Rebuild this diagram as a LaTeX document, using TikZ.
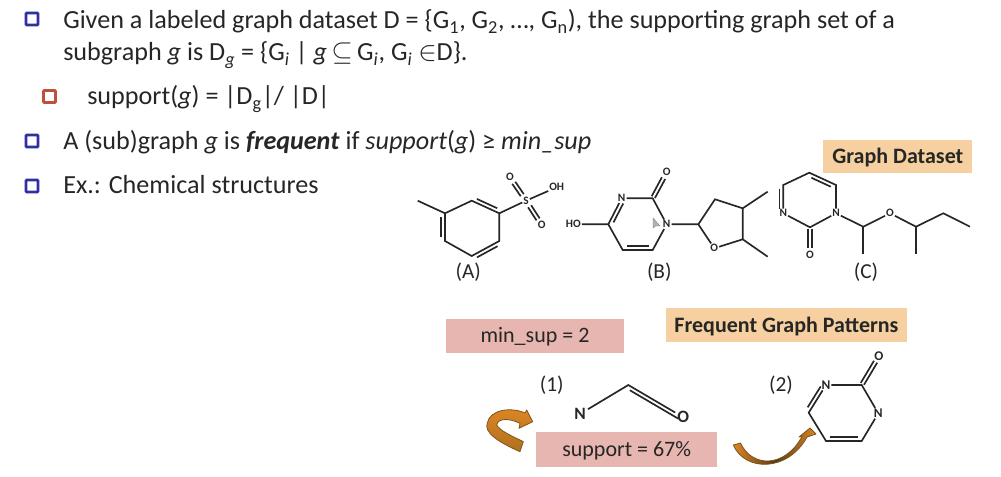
\documentclass[tikz,border=0pt]{standalone}
\usepackage{fontspec}
\setmainfont{Carlito}
\usetikzlibrary{calc}
\definecolor{bulletblue}{RGB}{48,48,160}
\definecolor{bulletred}{RGB}{190,80,60}
\definecolor{boxorange}{RGB}{246,208,160}
\definecolor{boxpink}{RGB}{232,182,176}
\definecolor{arroworange}{RGB}{222,134,36}
\definecolor{arrowdark}{RGB}{176,112,30}
\definecolor{arrowbrown}{RGB}{125,84,30}
\definecolor{inktext}{RGB}{38,38,38}
\tikzset{
  bond/.style={line width=1.25pt,color=inktext},
  atom/.style={inner sep=0.6pt,font=\fontsize{8.5}{9}\selectfont\bfseries,text=inktext},
  bigatom/.style={inner sep=1.5pt,font=\fontsize{13}{14}\selectfont\bfseries,text=inktext},
  bodytext/.style={anchor=base west,inner sep=0pt,font=\fontsize{19.6}{22}\selectfont,text=inktext},
  caption/.style={inner sep=0pt,font=\fontsize{16}{18}\selectfont,text=inktext},
  tagbox/.style={inner sep=0pt,text height=14pt,text depth=3.8pt,font=\fontsize{16.5}{18}\selectfont,text=inktext},
  bulletbox/.style={draw=#1,line width=2pt,fill=white,minimum size=9pt,inner sep=0pt,rounded corners=0.6pt},
  blockarrow/.style={draw=arrowbrown,line width=0.6pt,line join=round}
}
% inner line of a double bond, on side #3 (+1 or -1) of the line from #1 to #2
\newcommand{\ringline}[3]{
  \draw [bond,shorten >=3pt,shorten <=3pt] ($(#1)!#3*2.8pt!90:(#2)$) -- ($(#2)!#3*2.8pt!-90:(#1)$);
}
% two parallel lines of a bond towards an oxygen #2, start cut back by #3
\newcommand{\oxoline}[3]{
  \draw [bond,shorten >=5pt,shorten <=#3] ($(#1)!1.4pt!90:(#2)$) -- ($(#2)!1.4pt!-90:(#1)$);
  \draw [bond,shorten >=5pt,shorten <=#3] ($(#1)!-1.4pt!90:(#2)$) -- ($(#2)!-1.4pt!-90:(#1)$);
}
\begin{document}
\begin{tikzpicture}[x=0.75pt,y=0.75pt,yscale=-1,xscale=1]
\path [use as bounding box] (0,0) rectangle (1001,477);

% Bullets
\node (bulA) [bulletbox=bulletblue] at (32,19) {};
\node (bulB) [bulletbox=bulletred] at (49.5,96.5) {};
\node (bulC) [bulletbox=bulletblue] at (32,141) {};
\node (bulD) [bulletbox=bulletblue] at (32,186) {};

% Text Node
\node (lineA) [bodytext] at (63,29) {Given a labeled graph dataset D = \{G\textsubscript{1}, G\textsubscript{2}, \dots, G\textsubscript{n}), the supporting graph set of a};
% Text Node
\node (lineB) [bodytext] at (63,61) {subgraph \textit{g} is D\textsubscript{\textit{g}} = \{G\textsubscript{\textit{i}} | \textit{g}\,$\subseteq$\,G\textsubscript{\textit{i}}, G\textsubscript{\textit{i}} $\in$D\}.};
% Text Node
\node (lineC) [bodytext] at (87,105) {support(\textit{g}) = |D\textsubscript{g}|/ |D|};
% Text Node
\node (lineD) [bodytext] at (63,150) {A (sub)graph \textit{g} is \textbf{\textit{frequent}} if \textit{support}(\textit{g}) ≥ \textit{min\_sup}};
% Text Node
\node (lineE) [bodytext] at (63,194) {Ex.: Chemical structures};

% Tag boxes
\node (tagData) [tagbox,fill=boxorange,minimum width=111.8pt,minimum height=25pt] at (897.8,156.7) {\textbf{Graph Dataset}};
\node (tagFreq) [tagbox,fill=boxorange,minimum width=180.8pt,minimum height=25.5pt] at (786.5,325.3) {\textbf{Frequent Graph Patterns}};
\node (tagMin) [tagbox,fill=boxpink,minimum width=133.7pt,minimum height=25.7pt] at (535,336.2) {min\_sup = 2};
\node (tagSup) [tagbox,fill=boxpink,minimum width=136pt,minimum height=25.8pt] at (626.7,449.5) {support = 67\%};

% Text Node
\node (capA) [caption] at (468.3,272) {(A)};
\node (capB) [caption] at (659.3,272) {(B)};
\node (capC) [caption] at (866,272) {(C)};
\node (capOne) [caption] at (551.7,385) {(1)};
\node (capTwo) [caption] at (781,385) {(2)};

%Molecule A
\coordinate (aMe) at (417.7,200.7);
\coordinate (a1) at (445,213.3);
\coordinate (a2) at (471.7,200.7);
\coordinate (a3) at (499.3,213.3);
\coordinate (a4) at (499.3,241);
\coordinate (a5) at (471.7,256);
\coordinate (a6) at (445,241);
\node (aS) [atom] at (526,200.7) {S};
\node (aOa) [atom] at (510,177.3) {O};
\node (aOb) [atom] at (541.7,225) {O};
\node (aOH) [atom] at (556.7,187.3) {OH};
\draw [bond] (aMe) -- (a1);
\draw [bond] (a1) -- (a2) -- (a3) -- (a4) -- (a5) -- (a6) -- cycle;
\ringline{a2}{a3}{-1}
\ringline{a4}{a5}{-1}
\ringline{a6}{a1}{-1}
\draw [bond] (a3) -- (aS);
\draw [bond] (aS) -- (aOH);
\oxoline{aS}{aOa}{5pt}
\oxoline{aS}{aOb}{5pt}

%Molecule B
\node (bHO) [atom] at (573.3,224.3) {HO};
\coordinate (b1) at (608.3,224.3);
\node (bNa) [atom] at (621.7,198.3) {N};
\coordinate (b2) at (652.7,198.3);
\node (bO) [atom] at (666.7,172.3) {O};
\node (bNb) [atom] at (666.7,224.3) {N};
\coordinate (b3) at (652.7,250);
\coordinate (b4) at (622.7,250);
\coordinate (b5) at (698.3,224.3);
\coordinate (b6) at (715,199.3);
\coordinate (b7) at (742.7,208.3);
\coordinate (b8) at (742.7,239.3);
\node (bOr) [atom] at (714.3,248.3) {O};
\coordinate (bMa) at (767.7,191.7);
\coordinate (bMb) at (767.7,256.7);
\draw [bond] (bHO) -- (b1) -- (bNa) -- (b2) -- (bNb) -- (b3) -- (b4) -- (b1);
\ringline{b1}{bNa}{1}
\ringline{b3}{b4}{1}
\oxoline{b2}{bO}{1pt}
\draw [bond] (bNb) -- (b5) -- (b6) -- (b7) -- (b8) -- (bOr) -- (b5);
\draw [bond] (b7) -- (bMa);
\draw [bond] (b8) -- (bMb);
%Cursor
\fill [black!30,draw=black!50,line width=0.3pt] (653,218) -- (653,228) -- (655.5,226) -- (660,226) -- cycle;

%Molecule C
\coordinate (c1) at (783.3,185);
\coordinate (c2) at (809.3,172.7);
\coordinate (c3) at (836,185);
\node (cNa) [atom] at (836,213.3) {N};
\coordinate (c4) at (810,227.3);
\node (cNb) [atom] at (783.3,213.3) {N};
\node (cOa) [atom] at (810,255) {O};
\coordinate (c5) at (863.3,226.7);
\coordinate (c6) at (863.3,254);
\node (cOb) [atom] at (890,213.3) {O};
\coordinate (c7) at (916,226.7);
\coordinate (c8) at (916,254);
\coordinate (c9) at (943.3,213.3);
\coordinate (c10) at (970,226.7);
\draw [bond] (cNb) -- (c1) -- (c2) -- (c3) -- (cNa) -- (c4) -- (cNb);
\ringline{c1}{cNb}{1}
\ringline{c2}{c3}{1}
\oxoline{c4}{cOa}{1pt}
\draw [bond] (cNa) -- (c5) -- (cOb) -- (c7) -- (c9) -- (c10);
\draw [bond] (c5) -- (c6);
\draw [bond] (c7) -- (c8);

%Pattern 1
\node (pN) [bigatom] at (580,414) {N};
\coordinate (p1) at (628.3,385);
\node (pO) [bigatom] at (683.3,417.3) {O};
\draw [bond] (pN) -- (p1) -- (pO);
\ringline{p1}{pO}{1}

%Pattern 2
\node (qNa) [atom,font=\fontsize{10}{11}\selectfont\bfseries] at (826,385) {N};
\coordinate (q1) at (861.7,385);
\node (qO) [atom,font=\fontsize{10}{11}\selectfont\bfseries] at (879,356) {O};
\node (qNb) [atom,font=\fontsize{10}{11}\selectfont\bfseries] at (878.3,413.3) {N};
\coordinate (q2) at (861.7,441);
\coordinate (q3) at (826,441);
\coordinate (q4) at (808.7,412.7);
\draw [bond] (qNa) -- (q1) -- (qNb) -- (q2) -- (q3) -- (q4) -- (qNa);
\ringline{q4}{qNa}{-1}
\ringline{q2}{q3}{1}
\oxoline{q1}{qO}{1pt}

%Block arrows
\draw [blockarrow,top color=arroworange,bottom color=arrowdark] (520,451.7) .. controls (496,441) and (484,432) .. (487.3,423) .. controls (490,409) and (512,407) .. (525,413) -- (526.7,410) -- (532.7,421.7) -- (519,428.3) -- (520,423.3) .. controls (509,418) and (498,418) .. (496.7,425) .. controls (500,431) and (512,436) .. (523.3,441.7) -- cycle;
\draw [blockarrow,left color=arroworange,right color=arroworange,middle color=arrowbrown!70!black] (733.3,445) .. controls (745,472) and (788,472) .. (807,437) -- (816,434) -- (810,428) -- (799,437) -- (802,436.5) .. controls (785,468) and (752,468) .. (740.5,443) -- cycle;
\end{tikzpicture}
\end{document}
